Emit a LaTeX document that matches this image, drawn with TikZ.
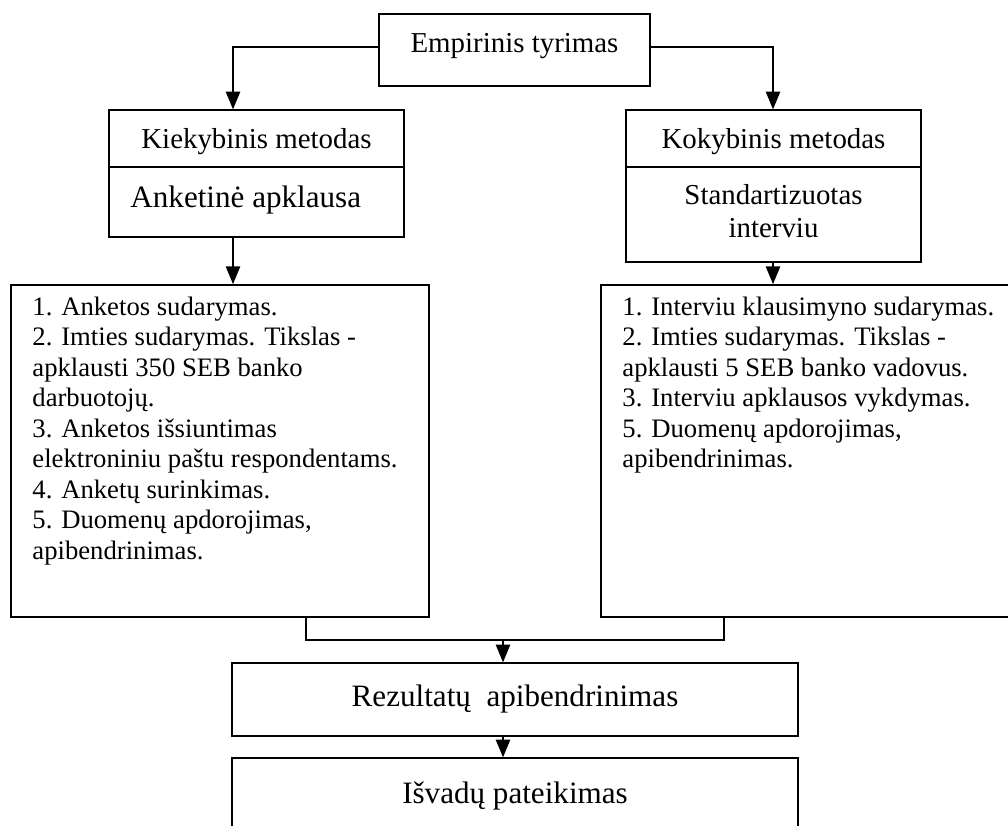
\documentclass[tikz,border=0pt]{standalone}
\usepackage{fontspec}
\setmainfont{Liberation Serif}
\usetikzlibrary{arrows.meta,fit}

% font sizes used in the chart
\newcommand{\fsmall}{\fontsize{12}{13.73}\selectfont}
\newcommand{\fmid}{\fontsize{13}{15}\selectfont}
\newcommand{\fbig}{\fontsize{14}{16}\selectfont}

\tikzset{
  box/.style={draw, line width=0.6pt, inner sep=0pt},
  listbox/.style={draw, line width=0.8pt, inner sep=0pt},
  lbl/.style={inner sep=0pt},
  arr/.style={line width=0.6pt, -{Triangle[length=8pt,width=6.5pt]}},
  link/.style={line width=0.6pt}
}

\begin{document}
\begin{tikzpicture}[x=0.45pt, y=-0.45pt]
  \useasboundingbox (0,0) rectangle (1008,825);
  \fill[white] (0,0) rectangle (1008,825);
  \clip (0,0) rectangle (1008,825);

  % top node
  \node[box, fit={(379,14) (650,86)}] (top) {};
  \node[lbl, anchor=base, font=\fmid] (ttop) at (514.5,53) {Empirinis tyrimas};

  % quantitative branch
  \node[box, fit={(109,110) (404,167)}] (kiek) {};
  \node[lbl, anchor=base, font=\fmid] (tkiek) at (256.5,148) {Kiekybinis metodas};
  \node[box, fit={(109,167) (404,237)}] (ank) {};
  \node[lbl, anchor=base west, font=\fbig] (tank) at (130,207) {Anketinė apklausa};

  % qualitative branch
  \node[box, fit={(626,110) (921,167)}] (koky) {};
  \node[lbl, anchor=base, font=\fmid] (tkoky) at (773.5,148) {Kokybinis metodas};
  \node[box, fit={(626,167) (921,262)}] (std) {};
  \node[lbl, anchor=base] (tstd) at (773.5,204)
    {\parbox[t]{200pt}{\fontsize{13}{15}\selectfont\centering Standartizuotas\\interviu}};

  % step lists
  \node[listbox, fit={(11,285) (429,617)}] (lbox) {};
  \node[lbl, anchor=base west] (tlbox) at (32,315)
    {\parbox[t]{180pt}{\fsmall\raggedright
      1. Anketos sudarymas.\\
      2. Imties sudarymas. Tikslas -\\
      apklausti 350 SEB banko\\
      darbuotojų.\\
      3. Anketos išsiuntimas\\
      elektroniniu paštu respondentams.\\
      4. Anketų surinkimas.\\
      5. Duomenų apdorojimas,\\
      apibendrinimas.}};

  \node[listbox, fit={(601,285) (1030,617)}] (rbox) {};
  \node[lbl, anchor=base west] (trbox) at (622,315)
    {\parbox[t]{180pt}{\fsmall\raggedright
      1. Interviu klausimyno sudarymas.\\
      2. Imties sudarymas. Tikslas -\\
      apklausti 5 SEB banko vadovus.\\
      3. Interviu apklausos vykdymas.\\
      5. Duomenų apdorojimas,\\
      apibendrinimas.}};

  % results and conclusions
  \node[box, fit={(232,663) (798,736)}] (rez) {};
  \node[lbl, anchor=base, font=\fbig] (trez) at (515,706) {Rezultatų\ \ apibendrinimas};
  \node[box, fit={(232,758) (798,870)}] (isv) {};
  \node[lbl, anchor=base, font=\fbig] (tisv) at (515,803) {Išvadų pateikimas};

  % connectors
  \coordinate (jl) at (233,47);
  \coordinate (jr) at (773,47);
  \draw[arr] (top.west |- jl) -- (jl) -- (kiek.north -| jl);
  \draw[arr] (top.east |- jr) -- (jr) -- (koky.north -| jr);
  \draw[arr] (ank.south -| jl) -- (lbox.north -| jl);
  \draw[arr] (std.south -| jr) -- (rbox.north -| jr);

  \coordinate (ml) at (306,640);
  \coordinate (mr) at (724,640);
  \coordinate (mc) at (503,640);
  \draw[link] (lbox.south -| ml) -- (ml) -- (mr) -- (rbox.south -| mr);
  \draw[arr] (mc) -- (rez.north -| mc);
  \draw[arr] (rez.south -| mc) -- (isv.north -| mc);
\end{tikzpicture}
\end{document}
